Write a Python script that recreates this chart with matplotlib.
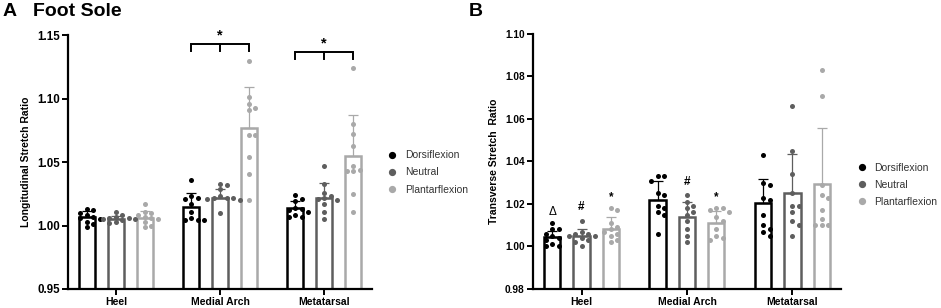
import matplotlib
matplotlib.use("Agg")
import matplotlib.pyplot as plt
import numpy as np
from matplotlib.lines import Line2D

plt.rcParams['font.family'] = ['Liberation Sans', 'DejaVu Sans']

sites = ['Heel', 'Medial Arch', 'Metatarsal']
positions = ['Dorsiflexion', 'Neutral', 'Plantarflexion']
colors = ['#000000', '#5e5e5e', '#a9a9a9']

# panel A - longitudinal stretch ratio  [site][position]
long_mean = [[1.007, 1.005, 1.006],
             [1.015, 1.022, 1.077],
             [1.014, 1.022, 1.055]]
long_sd = [[0.0047, 0.0026, 0.0054],
           [0.0105, 0.0066, 0.032],
           [0.0055, 0.0115, 0.032]]
long_points = [
    [[1.013, 1.012, 1.010, 1.008, 1.007, 1.006, 1.005, 1.003, 1.001, 0.999],
     [1.011, 1.008, 1.007, 1.006, 1.006, 1.005, 1.005, 1.004, 1.003, 1.002],
     [1.017, 1.011, 1.010, 1.008, 1.007, 1.006, 1.005, 1.003, 1.000, 0.999]],
    [[1.036, 1.023, 1.022, 1.021, 1.017, 1.011, 1.006, 1.004, 1.004, 1.004],
     [1.033, 1.032, 1.029, 1.023, 1.022, 1.022, 1.022, 1.021, 1.020, 1.010],
     [1.130, 1.101, 1.096, 1.093, 1.091, 1.071, 1.071, 1.054, 1.041, 1.020]],
    [[1.024, 1.021, 1.019, 1.014, 1.013, 1.012, 1.011, 1.008, 1.007, 1.007],
     [1.047, 1.033, 1.026, 1.023, 1.022, 1.021, 1.020, 1.017, 1.011, 1.005],
     [1.124, 1.080, 1.072, 1.063, 1.047, 1.044, 1.043, 1.043, 1.025, 1.011]],
]

# panel B - transverse stretch ratio
trans_mean = [[1.0043, 1.005, 1.0082],
              [1.0217, 1.0137, 1.011],
              [1.0203, 1.025, 1.0293]]
trans_sd = [[0.003, 0.003, 0.0055],
            [0.009, 0.0074, 0.0058],
            [0.0116, 0.0187, 0.0263]]
trans_points = [
    [[1.011, 1.008, 1.008, 1.006, 1.005, 1.004, 1.003, 1.001, 1.000, 1.000],
     [1.012, 1.007, 1.006, 1.006, 1.005, 1.005, 1.004, 1.003, 1.002, 1.000],
     [1.018, 1.017, 1.011, 1.009, 1.008, 1.007, 1.006, 1.005, 1.003, 1.002]],
    [[1.033, 1.033, 1.031, 1.025, 1.024, 1.019, 1.018, 1.016, 1.015, 1.006],
     [1.024, 1.021, 1.019, 1.018, 1.016, 1.015, 1.012, 1.008, 1.005, 1.002],
     [1.018, 1.018, 1.017, 1.016, 1.014, 1.012, 1.008, 1.005, 1.004, 1.003]],
    [[1.043, 1.030, 1.029, 1.023, 1.022, 1.015, 1.010, 1.008, 1.007, 1.005],
     [1.066, 1.045, 1.034, 1.025, 1.019, 1.019, 1.016, 1.012, 1.010, 1.005],
     [1.083, 1.071, 1.029, 1.024, 1.023, 1.017, 1.013, 1.010, 1.010, 1.010]],
]

# significance marks in panel B: (site, position, text, y)
trans_marks = [(0, 0, '\u0394', 1.0176), (0, 1, '#', 1.020), (0, 2, '*', 1.0246),
               (1, 1, '#', 1.032), (1, 2, '*', 1.0246)]

offs = [-0.278, 0.0, 0.278]
bw = 0.155


def swarm(ax, xc, vals, step_px=6.5, dot_px=5.0):
    # simple beeswarm in pixel space
    t = ax.transData
    px_per_x = t.transform((1, 0))[0] - t.transform((0, 0))[0]
    ys = [t.transform((0, v))[1] for v in vals]
    placed = []
    xs = []
    for y in ys:
        k = 0
        while True:
            cands = [0] if k == 0 else [k, -k]
            ok = None
            for c in cands:
                xo = c * step_px
                if all((xo - px) ** 2 + (y - py) ** 2 >= dot_px ** 2 for px, py in placed):
                    ok = xo
                    break
            if ok is not None:
                break
            k += 1
        placed.append((ok, y))
        xs.append(xc + ok / px_per_x)
    return xs


def draw_panel(ax, means, sds, points, ylo, yhi, ystep, ylabel, ytick_size):
    ax.set_xlim(-0.46, 2.46)
    ax.set_ylim(ylo, yhi)
    for i in range(3):
        for j in range(3):
            x = i + offs[j]
            c = colors[j]
            ax.bar(x, means[i][j] - ylo, bottom=ylo, width=bw, facecolor='white',
                   edgecolor=c, linewidth=1.8, zorder=2)
            ax.errorbar(x, means[i][j], yerr=[[0], [sds[i][j]]], fmt='none', ecolor=c,
                        elinewidth=0.9, capsize=3.5, capthick=0.9, zorder=3)
            xs = swarm(ax, x, points[i][j])
            ax.scatter(xs, points[i][j], s=13, color=c, linewidths=0, zorder=4, clip_on=False)
    for s in ['top', 'right']:
        ax.spines[s].set_visible(False)
    for s in ['left', 'bottom']:
        ax.spines[s].set_linewidth(1.6)
    ax.set_yticks(np.arange(ylo, yhi + ystep / 2, ystep))
    ax.yaxis.set_major_formatter(matplotlib.ticker.FormatStrFormatter('%.2f'))
    ax.set_xticks(range(3))
    ax.set_xticklabels(sites)
    ax.tick_params(axis='both', width=1.4, length=4, labelsize=7.5, pad=2)
    ax.tick_params(axis='y', labelsize=ytick_size)
    for lab in ax.get_xticklabels() + ax.get_yticklabels():
        lab.set_fontweight('bold')
    ax.set_ylabel(ylabel, fontsize=7.5, fontweight='bold', labelpad=4)


fig = plt.figure(figsize=(9.41, 3.08), dpi=100)
axA = fig.add_axes([0.0723, 0.0617, 0.323, 0.824])
axB = fig.add_axes([0.5664, 0.0617, 0.3273, 0.828])

draw_panel(axA, long_mean, long_sd, long_points, 0.95, 1.15, 0.05,
           'Longitudinal Stretch Ratio', 8.3)
draw_panel(axB, trans_mean, trans_sd, trans_points, 0.98, 1.10, 0.02,
           'Transverse Stretch  Ratio', 7.3)

# brackets panel A
for i, yb, ys in [(1, 1.1429, 1.1524), (2, 1.1366, 1.1461)]:
    x0, x1 = i + offs[0], i + offs[2]
    axA.plot([x0, x0, x1, x1], [yb - 0.005, yb, yb, yb - 0.005], color='black', lw=1.4,
             clip_on=False, solid_joinstyle='miter')
    axA.plot([i, i], [yb, yb - 0.005], color='black', lw=1.4, clip_on=False)
    axA.text(i, ys - 0.003, '*', ha='center', va='center', fontsize=10.5, fontweight='bold')

for i, j, t, y in trans_marks:
    axB.text(i + offs[j], y - 0.0015, t, ha='center', va='center', fontsize=8.5,
             fontweight='bold' if t != '\u0394' else 'normal')

handles = [Line2D([], [], marker='o', ls='', color=c, markersize=4.2) for c in colors]
for ax, xl, yl in [(axA, 0.406, 0.44), (axB, 0.9045, 0.40)]:
    ax.legend(handles, positions, loc='center left', bbox_to_anchor=(xl, yl),
              bbox_transform=fig.transFigure, frameon=False, fontsize=7.5,
              handlelength=1.0, handletextpad=0.75, labelspacing=0.7, borderpad=0,
              labelcolor='#333333')

fig.text(0.003, 0.962, 'A', fontsize=14, fontweight='bold', va='center')
fig.text(0.035, 0.962, 'Foot Sole', fontsize=14, fontweight='bold', va='center')
fig.text(0.4985, 0.962, 'B', fontsize=14, fontweight='bold', va='center')

fig.savefig('out.png', dpi=100)
